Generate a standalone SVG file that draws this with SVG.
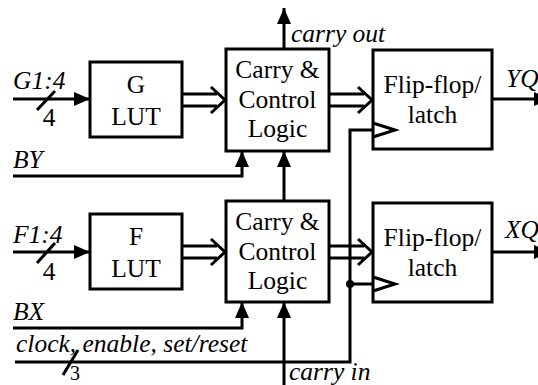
<svg xmlns="http://www.w3.org/2000/svg" width="538" height="385" viewBox="0 0 538 385">
<defs>
<style>
.box{fill:#fff;stroke:#000;stroke-width:3}
.w{fill:none;stroke:#000;stroke-width:3}
.ha{fill:none;stroke:#000;stroke-width:3;stroke-linejoin:miter}
text{font-family:'Liberation Serif','Times New Roman',Times,serif;font-size:25.5px;fill:#000}
.t{text-anchor:middle}
.l{font-style:italic}
.n{text-anchor:middle}
</style>
<marker id="ah" viewBox="0 0 16 14" refX="16" refY="7" markerWidth="16" markerHeight="14" markerUnits="userSpaceOnUse" orient="auto">
<path d="M0,0 L16,7 L0,14 Z" fill="#000"/>
</marker>
</defs>
<g id="connectors">
<path class="w" d="M13,99 H90" marker-end="url(#ah)"/>
<path class="w" d="M37,110 L55,91"/>
<path class="w" d="M13,252 H90" marker-end="url(#ah)"/>
<path class="w" d="M37,263 L55,243"/>
<path class="w" d="M13,176 H242 V151" marker-end="url(#ah)"/>
<path class="w" d="M13,328 H242 V302" marker-end="url(#ah)"/>
<path class="w" d="M284,49 V8" marker-end="url(#ah)"/>
<path class="w" d="M284,201 V151" marker-end="url(#ah)"/>
<path class="w" d="M284,385 V302" marker-end="url(#ah)"/>
<path class="w" d="M492,99 H550" marker-end="url(#ah)"/>
<path class="w" d="M492,252 H550" marker-end="url(#ah)"/>
<path class="w" d="M15,362 H350 V130 H373"/>
<path class="w" d="M350,284 H373"/>
<path class="w" d="M63,375 L78,350"/>
<circle cx="350" cy="284" r="4" fill="#000"/>
<path class="ha" d="M182,94 H217 M182,106 H217 M211,87 L225,100 L211,113"/>
<path class="ha" d="M182,246 H217 M182,258 H217 M211,239 L225,252 L211,265"/>
<path class="ha" d="M329,94 H364 M329,106 H364 M358,87 L372,100 L358,113"/>
<path class="ha" d="M329,246 H364 M329,258 H364 M358,239 L372,252 L358,265"/>
</g>
<g id="g-lut">
<rect class="box" x="90" y="62" width="92" height="75"/>
<text class="t" x="136" y="93">G</text>
<text class="t" x="136" y="125">LUT</text>
</g>
<g id="f-lut">
<rect class="box" x="90" y="214" width="92" height="75"/>
<text class="t" x="136" y="245">F</text>
<text class="t" x="136" y="277">LUT</text>
</g>
<g id="carry-top">
<rect class="box" x="226" y="49" width="103" height="102"/>
<text class="t" x="277.5" y="78">Carry &amp;</text>
<text class="t" x="277.5" y="108">Control</text>
<text class="t" x="277.5" y="137">Logic</text>
</g>
<g id="carry-bottom">
<rect class="box" x="226" y="201" width="103" height="101"/>
<text class="t" x="277.5" y="230">Carry &amp;</text>
<text class="t" x="277.5" y="260">Control</text>
<text class="t" x="277.5" y="289">Logic</text>
</g>
<g id="ff-top">
<rect class="box" x="373" y="50" width="119" height="99"/>
<text class="t" x="432.5" y="93">Flip-flop/</text>
<text class="t" x="432.5" y="123">latch</text>
<path class="w" d="M373,123 L395,130 L373,137"/>
</g>
<g id="ff-bottom">
<rect class="box" x="373" y="203" width="119" height="99"/>
<text class="t" x="432.5" y="246">Flip-flop/</text>
<text class="t" x="432.5" y="276">latch</text>
<path class="w" d="M373,277 L395,284 L373,291"/>
</g>
<g id="labels">
<text class="l" x="13" y="89">G1:4</text>
<text class="n" x="49" y="126">4</text>
<text class="l" x="13" y="168">BY</text>
<text class="l" x="13" y="243">F1:4</text>
<text class="n" x="49" y="280">4</text>
<text class="l" x="13" y="320">BX</text>
<text class="l" x="16" y="352">clock, enable, set/reset</text>
<text class="n" x="75" y="380" style="font-size:20px">3</text>
<text class="l" x="291" y="42">carry out</text>
<text class="l" x="289" y="380">carry in</text>
<text class="l" x="506" y="87">YQ</text>
<text class="l" x="505" y="238">XQ</text>
</g>
</svg>
